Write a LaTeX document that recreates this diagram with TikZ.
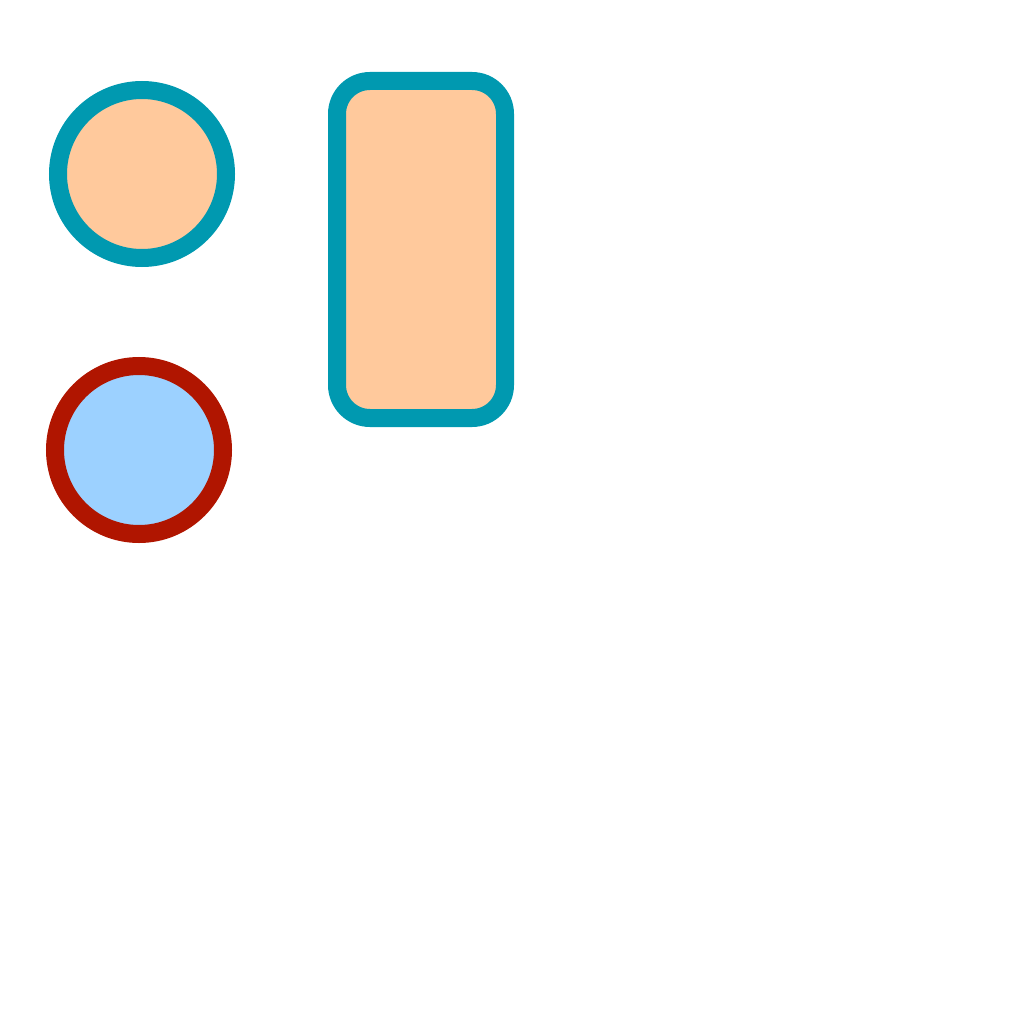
\documentclass[tikz,border=0pt]{standalone}
\usepackage{tikz}
\definecolor{tealline}{RGB}{0,153,176}
\definecolor{peach}{RGB}{255,201,156}
\definecolor{skyblue}{RGB}{156,209,255}
\definecolor{rustred}{RGB}{176,21,0}
\tikzset{
  blob/.style={circle,draw,line width=18pt,minimum size=168pt,inner sep=0pt},
  slab/.style={rectangle,draw,line width=18pt,rounded corners=33pt,
    minimum width=168pt,minimum height=337pt,inner sep=0pt}
}

\begin{document}
\begin{tikzpicture}[x=1pt,y=-1pt]
        \useasboundingbox (0,0) rectangle (1024,1024);
        % top circle and tall box
        \node[blob,draw=tealline,fill=peach] (topcirc) at (142,174) {};
        \node[slab,draw=tealline,fill=peach] (tallbox) at (421,249.5) {};
        % lower circle
        \node[blob,draw=rustred,fill=skyblue] (lowcirc) at (139,450) {};
      \end{tikzpicture}
\end{document}
